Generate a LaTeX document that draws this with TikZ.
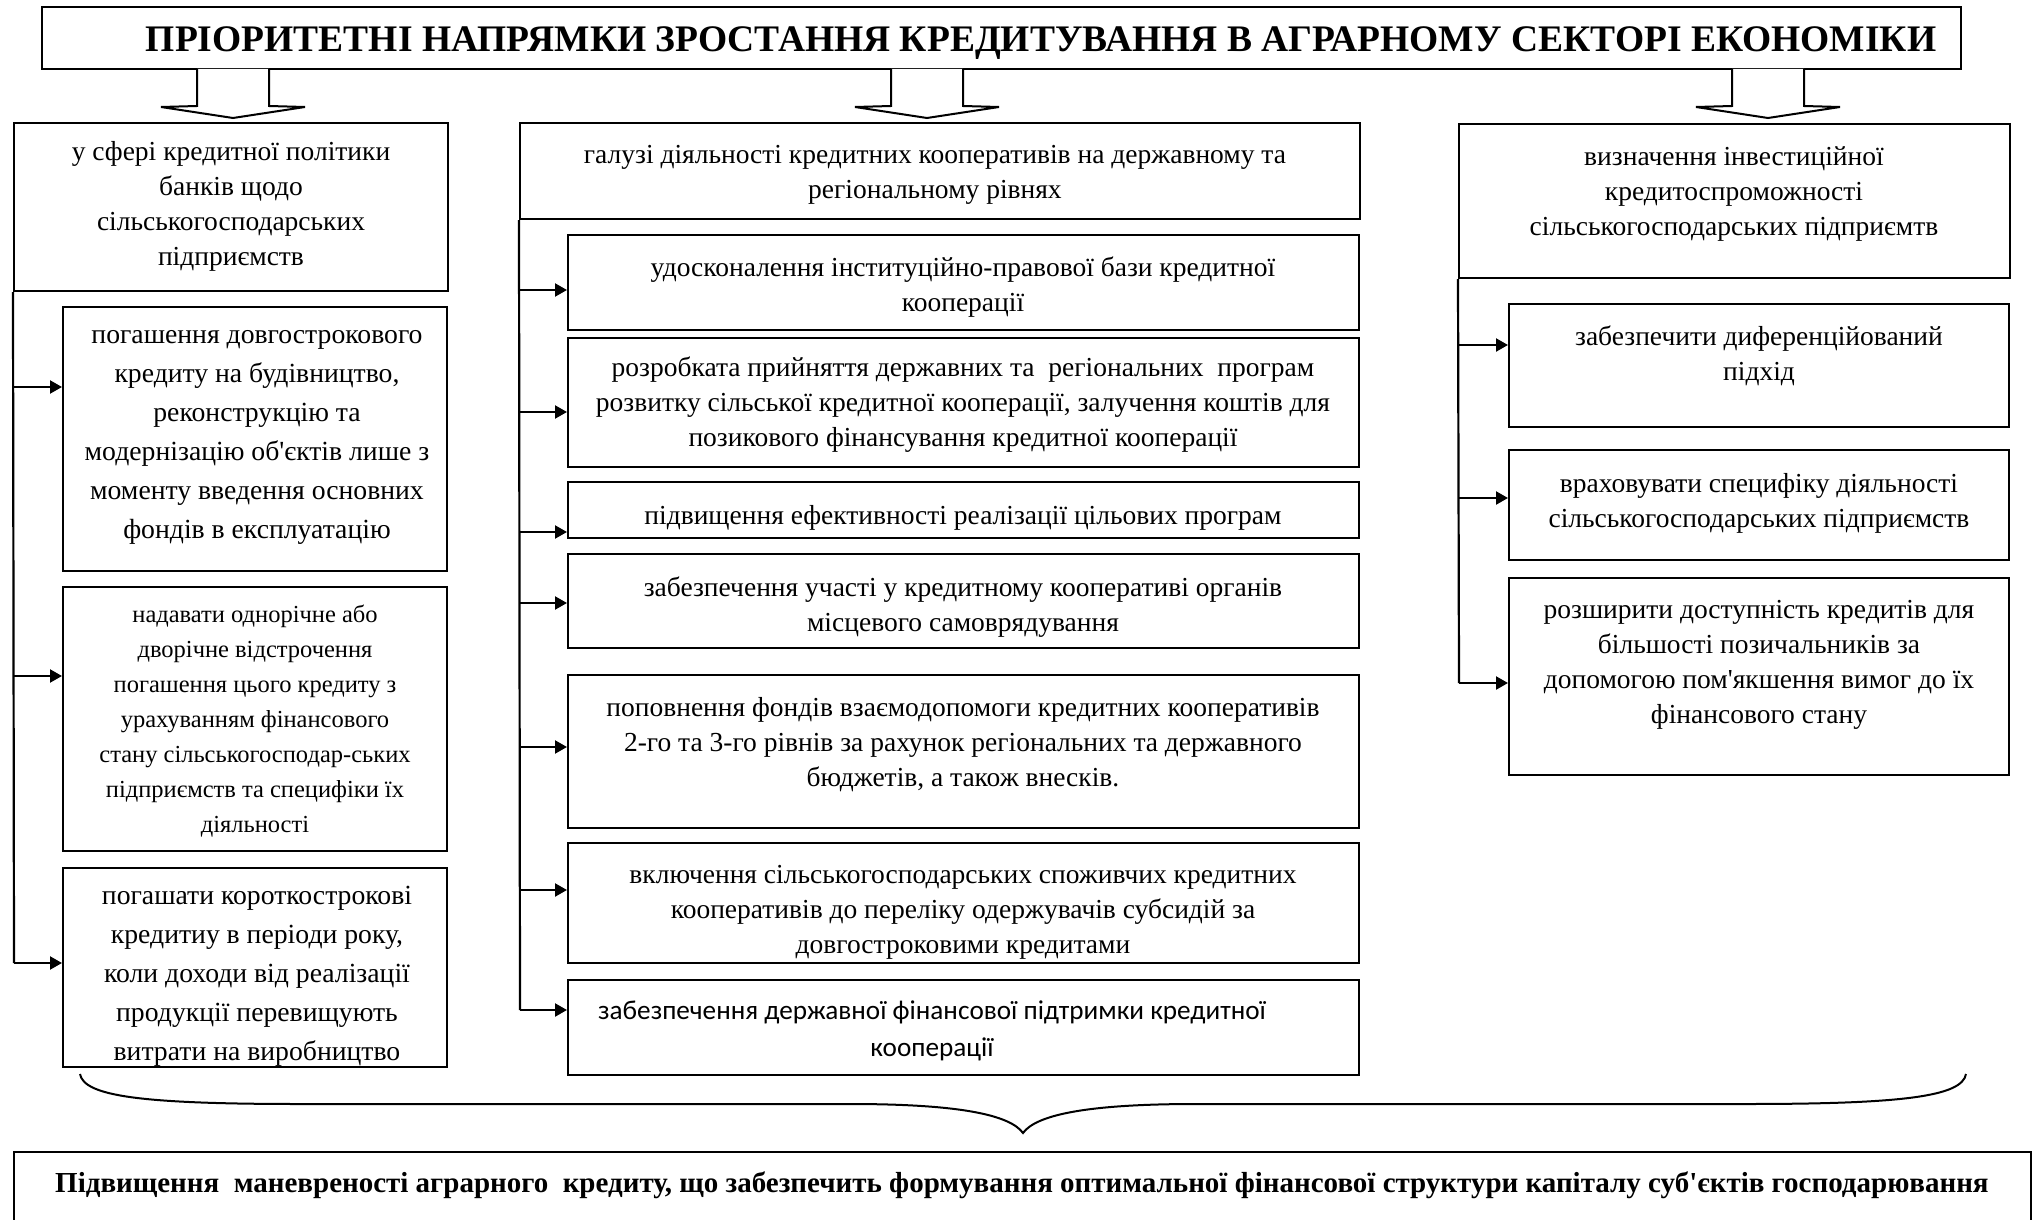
\documentclass[tikz,border=0pt]{standalone}
\usepackage{fontspec}
\setmainfont{Liberation Serif}
\newfontfamily\rmplain{Liberation Serif}
\newfontfamily\calibfont{Carlito}
\usetikzlibrary{arrows.meta,fit}
\begin{document}
\begin{tikzpicture}[x=0.5pt,y=-0.5pt,
  boxst/.style={draw, line width=1pt, inner sep=0pt},
  txt/.style={align=center, inner sep=0pt, yshift=-1.5pt, font=\rmplain\fontsize{13.75}{17.5}\selectfont},
  txtbig/.style={align=center, inner sep=0pt, yshift=-1.5pt, font=\rmplain\fontsize{13.85}{19.5}\selectfont},
  txtsmall/.style={align=center, inner sep=0pt, yshift=-1.5pt, font=\rmplain\fontsize{12.25}{17.5}\selectfont},
  txtsans/.style={align=center, inner sep=0pt, yshift=-1.5pt, font=\calibfont\fontsize{13.6}{18.2}\selectfont},
  link/.style={line width=1.1pt},
  arr/.style={line width=1.1pt, -{Triangle[length=6pt,width=6.5pt]}},
  blockarrow/.style={line width=1pt, fill=white, line join=miter},
]
\useasboundingbox (0,0) rectangle (2040,1220);
\begin{scope}
\clip (0,0) rectangle (2040,1220);

% title
\node[boxst, fit={(42,7) (1961,69)}] (title) {};
\node[inner sep=0pt, anchor=base, font=\rmplain\fontsize{18.75}{23}\selectfont\bfseries] (ttitle) at (1041,52)
  {ПРІОРИТЕТНІ НАПРЯМКИ ЗРОСТАННЯ КРЕДИТУВАННЯ В АГРАРНОМУ СЕКТОРІ ЕКОНОМІКИ};

% block arrows
\foreach \c in {233,927,1768}{
  \draw[blockarrow] (\c-36,69) -- (\c-36,106) -- (\c-72,107) -- (\c,118) -- (\c+72,107) -- (\c+36,106) -- (\c+36,69);
}

% left column
\node[boxst, fit={(14,123) (448,291)}] (LH) {};
\node[txt] (tLH) at (231,203) {у сфері кредитної політики\\банків щодо\\сільськогосподарських\\підприємств};
\node[boxst, fit={(63,307) (447,571)}] (L1) {};
\node[txtbig] (tL1) at (257,434) {погашення довгострокового\\кредиту на будівництво,\\реконструкцію та\\модернізацію об'єктів лише з\\моменту введення основних\\фондів в експлуатацію};
\node[boxst, fit={(63,587) (447,851)}] (L2) {};
\node[txtsmall] (tL2) at (255,718) {надавати однорічне або\\дворічне відстрочення\\погашення цього кредиту з\\урахуванням фінансового\\стану сільськогосподар-ських\\підприємств та специфіки їх\\діяльності};
\node[boxst, fit={(63,868) (447,1067)}] (L3) {};
\node[txtbig] (tL3) at (257,973) {погашати короткострокові\\кредитиу в періоди року,\\коли доходи від реалізації\\продукції перевищують\\витрати на виробництво};

\coordinate (aL1) at (14,387);
\coordinate (aL2) at (14,676);
\coordinate (aL3) at (14,963);
\draw[link] (LH.south west) -- (aL3);
\foreach \n in {1,2,3}{ \draw[arr] (aL\n) -- (aL\n -| L\n.west); }

% middle column
\node[boxst, fit={(520,123) (1360,219)}] (MH) {};
\node[txt] (tMH) at (935,172) {галузі діяльності кредитних кооперативів на державному та\\регіональному рівнях};
\node[boxst, fit={(568,235) (1359,330)}] (M1) {};
\node[txt] (tM1) at (963,284) {удосконалення інституційно-правової бази кредитної\\кооперації};
\node[boxst, fit={(568,338) (1359,467)}] (M2) {};
\node[txt] (tM2) at (963,402) {розробката прийняття державних та\ \ регіональних\ \ програм\\розвитку сільської кредитної кооперації, залучення коштів для\\позикового фінансування кредитної кооперації};
\node[boxst, fit={(568,482) (1359,538)}] (M3) {};
\node[txt] (tM3) at (963,515) {підвищення ефективності реалізації цільових програм};
\node[boxst, fit={(568,554) (1359,648)}] (M4) {};
\node[txt] (tM4) at (963,604) {забезпечення участі у кредитному кооперативі органів\\місцевого самоврядування};
\node[boxst, fit={(568,675) (1359,828)}] (M5) {};
\node[txt] (tM5) at (963,742) {поповнення фондів взаємодопомоги кредитних кооперативів\\2-го та 3-го рівнів за рахунок регіональних та державного\\бюджетів, а також внесків.};
\node[boxst, fit={(568,843) (1359,963)}] (M6) {};
\node[txt] (tM6) at (963,909) {включення сільськогосподарських споживчих кредитних\\кооперативів до переліку одержувачів субсидій за\\довгостроковими кредитами};
\node[boxst, fit={(568,980) (1359,1075)}] (M7) {};
\node[txtsans] (tM7) at (932,1028) {забезпечення державної фінансової підтримки кредитної\\кооперації};

\coordinate (aM1) at (520,290);
\coordinate (aM2) at (520,412);
\coordinate (aM3) at (520,532);
\coordinate (aM4) at (520,603);
\coordinate (aM5) at (520,747);
\coordinate (aM6) at (520,890);
\coordinate (aM7) at (520,1010);
\draw[link] (MH.south west) -- (aM7);
\foreach \n in {1,...,7}{ \draw[arr] (aM\n) -- (aM\n -| M\n.west); }

% right column
\node[boxst, fit={(1459,124) (2010,278)}] (RH) {};
\node[txt] (tRH) at (1734,191) {визначення інвестиційної\\кредитоспроможності\\сільськогосподарських підприємтв};
\node[boxst, fit={(1509,304) (2009,427)}] (R1) {};
\node[txt] (tR1) at (1759,353) {забезпечити диференційований\\підхід};
\node[boxst, fit={(1509,450) (2009,560)}] (R2) {};
\node[txt] (tR2) at (1759,500) {враховувати специфіку діяльності\\сільськогосподарських підприємств};
\node[boxst, fit={(1509,578) (2009,775)}] (R3) {};
\node[txt] (tR3) at (1759,662) {розширити доступність кредитів для\\більшості позичальників за\\допомогою пом'якшення вимог до їх\\фінансового стану};

\coordinate (aR1) at (1459,345);
\coordinate (aR2) at (1459,498);
\coordinate (aR3) at (1459,683);
\draw[link] (RH.south west) -- (aR3);
\foreach \n in {1,2,3}{ \draw[arr] (aR\n) -- (aR\n -| R\n.west); }

% brace
\draw[line width=1pt] (80,1074) .. controls (84,1096) and (140,1104) .. (300,1104) -- (850,1104)
  .. controls (960,1104) and (1010,1115) .. (1023,1133)
  .. controls (1036,1115) and (1086,1104) .. (1196,1104) -- (1746,1104)
  .. controls (1906,1104) and (1962,1096) .. (1966,1074);

% bottom box
\node[boxst, fit={(14,1152) (2031,1260)}] (bottom) {};
\node[inner sep=0pt, anchor=base, font=\rmplain\fontsize{14.5}{18}\selectfont\bfseries] (tbottom) at (1022,1192)
  {Підвищення\ \ маневреності аграрного\ \ кредиту, що забезпечить формування оптимальної фінансової структури капіталу суб'єктів господарювання};
\end{scope}
\end{tikzpicture}
\end{document}
